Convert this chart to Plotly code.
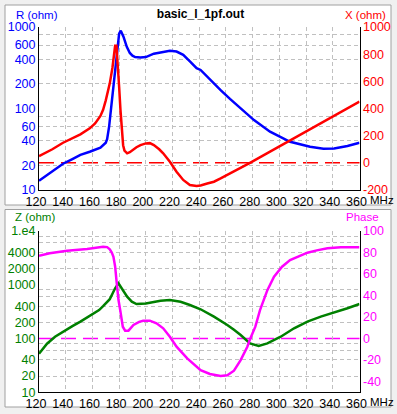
import plotly.graph_objects as go

# ---------------- data ----------------
f_R = [120, 130, 138, 145, 151, 158, 166, 170, 171, 172.5, 173.5, 174.5, 175.75, 177, 178.25, 179,
       180, 181.25, 182, 183.25, 185.75, 188, 190, 192, 196, 200, 206, 213, 218, 223, 228, 233,
       238, 241, 248, 256, 263, 271, 281, 293, 308, 323, 333, 341, 351, 360]
R_ohm = [13, 17, 21, 24, 27, 29.5, 33, 38, 42, 60, 85, 127, 185, 270, 393, 560,
         830, 900, 850, 760, 570, 480, 445, 428, 422, 428, 470, 498, 512, 500, 455, 378,
         312, 297, 226, 168, 131, 100, 72, 52, 39, 34, 32, 32.4, 34.7, 38]

f_X = [120, 130, 138, 145, 151, 158, 162, 166, 168, 170, 171, 173, 175, 176, 177, 178, 179, 180,
       181, 182, 183, 184, 186, 188, 190, 193, 196, 200, 203, 206, 210, 213, 218, 223, 228, 233,
       238, 241, 246, 251, 256, 261, 266, 271, 278, 285, 291, 297, 303, 310, 316, 322, 328, 335,
       341, 346, 351, 356, 360]
X_ohm = [50, 100, 148, 180, 210, 254, 290, 345, 390, 460, 500, 585, 700, 780, 862, 862, 740, 560,
         390, 217, 130, 90, 70, 78, 95, 115, 131, 143, 145, 131, 100, 70, 8, -65, -126, -163,
         -170, -167, -152, -139, -115, -90, -65, -40, 0, 38, 71, 104, 139, 178, 212, 246, 279, 318,
         351, 378, 404, 430, 450]

f_Z = [120, 126, 132, 138, 145, 151, 156, 161, 165, 168, 171, 173, 175, 177, 179.5, 182, 184, 186,
       189.5, 193, 200, 205, 211, 218, 226, 233, 241, 251, 256, 261, 266, 271, 278, 284.5, 291,
       296, 301, 311, 321, 331, 341, 351, 360]
Z_ohm = [52, 80, 108, 135, 170, 206, 245, 295, 339, 400, 470, 540, 680, 860, 1064, 860, 700, 600,
         484, 438, 450, 480, 505, 521, 484, 420, 350, 255, 215, 179, 145, 116, 81, 73, 81,
         95, 108, 155, 206, 255, 302, 365, 438]

f_P = [120, 128, 141, 156, 168, 171, 173, 174.5, 175.75, 177, 178.25, 179.5, 181, 182.75, 184.5,
       187, 190.75, 195, 198, 203, 208, 213, 218, 223, 231, 241, 248, 256, 261, 266, 271, 276,
       278, 282, 285.5, 288, 291, 296, 302, 308, 315, 321, 328, 336, 346, 360]
Phase_deg = [77, 79.3, 81.7, 83.3, 85.4, 85, 83, 80, 76, 67, 51, 36, 25, 11, 7.3,
             7.3, 12.6, 15.5, 16.6, 16.6, 14.2, 9.5, 1.7, -7.6, -18.4, -29.5, -33, -34.8, -34.2, -29.9, -20, -7.6,
             -0.7, 11, 26.5, 35.8, 45, 57.5, 66.8, 73, 77, 79.8, 82, 83.9, 84.8, 84.8]

freq_ticks = [120, 140, 160, 180, 200, 220, 240, 260, 280, 300, 320, 340, 360]
R_ticks = [10, 20, 40, 60, 100, 200, 400, 600, 1000]
R_minor = [20, 40, 60, 80, 200, 400, 600, 800]
R_decades = [10, 100, 1000]
X_ticks = [-200, 0, 200, 400, 600, 800, 1000]
Z_ticks = [10, 20, 40, 100, 200, 400, 1000, 2000, 4000, 10000]
Z_ticktext = ["10", "20", "40", "100", "200", "400", "1000", "2000", "4000", "1.e4"]
Z_minor = [20, 40, 60, 80, 200, 400, 600, 800, 2000, 4000, 6000, 8000]
Z_decades = [10, 100, 1000, 10000]
P_ticks = [-40, -20, 0, 20, 40, 60, 80, 100]

# ---------------- layout helpers ----------------
W, H = 397, 414
def px(x):
    return x / W
def py(y):
    return 1 - y / H

FONT = "Liberation Sans, Arial, sans-serif"
GRID = "#c0c0c0"
GDASH = "4px,3px"
BLUE, RED, GREEN, MAG = "#0000ff", "#ff0000", "#008000", "#ff00ff"
LW = 2.5
TS = 12.5

xdom = [px(39), px(359.5)]
top_dom = [py(190), py(27)]
bot_dom = [py(392.3), py(231)]

fig = go.Figure()
fig.add_trace(go.Scatter(x=f_R, y=R_ohm, mode="lines", line=dict(color=BLUE, width=LW),
                         xaxis="x", yaxis="y", showlegend=False))
fig.add_trace(go.Scatter(x=f_X, y=X_ohm, mode="lines", line=dict(color=RED, width=LW),
                         xaxis="x", yaxis="y2", showlegend=False))
fig.add_trace(go.Scatter(x=f_Z, y=Z_ohm, mode="lines", line=dict(color=GREEN, width=LW),
                         xaxis="x2", yaxis="y4", showlegend=False))
fig.add_trace(go.Scatter(x=f_P, y=Phase_deg, mode="lines", line=dict(color=MAG, width=LW),
                         xaxis="x2", yaxis="y5", showlegend=False))

tickfont = dict(family=FONT, size=TS, color="black")
xcommon = dict(range=[120, 360], domain=xdom, tickmode="array", tickvals=freq_ticks,
               ticktext=[str(v) for v in freq_ticks], showgrid=True, gridcolor=GRID,
               griddash=GDASH, gridwidth=1, showline=True, linecolor="black", linewidth=1,
               ticks="", zeroline=False, automargin=False, tickfont=tickfont, fixedrange=True,
               ticklabelshift=-3)

def logaxis(dom, rng, tv, tt, minor, color, anchor):
    return dict(type="log", range=rng, domain=dom, anchor=anchor, tickmode="array", tickvals=tv,
                ticktext=tt, showgrid=False, showline=True, linecolor="black", linewidth=1,
                ticks="", zeroline=False, automargin=False,
                tickfont=dict(family=FONT, size=TS, color=color),
                minor=dict(tickmode="array", tickvals=minor, showgrid=True, gridcolor=GRID,
                           griddash=GDASH, gridwidth=1, ticks=""))

def decade_axis(base, rng, tv, anchor):
    return dict(type="log", range=rng, overlaying=base, anchor=anchor, side="left",
                tickmode="array", tickvals=tv, showticklabels=False, showgrid=True,
                gridcolor=GRID, gridwidth=1, ticks="", showline=False, zeroline=False,
                automargin=False)

def linaxis(base, rng, tv, color, anchor):
    return dict(range=rng, overlaying=base, anchor=anchor, side="right", tickmode="array",
                tickvals=tv, ticktext=[str(v) for v in tv], showgrid=False, showline=True,
                linecolor="black", linewidth=1, ticks="", zeroline=False, automargin=False,
                tickfont=dict(family=FONT, size=TS, color=color))

fig.update_layout(
    template="none",
    width=W, height=H,
    margin=dict(l=0, r=0, t=0, b=0),
    paper_bgcolor="#f0f0f0",
    plot_bgcolor="white",
    font=dict(family=FONT, size=TS, color="black"),
    showlegend=False,
    xaxis=dict(anchor="y", **xcommon),
    xaxis2=dict(anchor="y4", **xcommon),
    yaxis=logaxis(top_dom, [1, 3], R_ticks, [str(v) for v in R_ticks], R_minor, BLUE, "x"),
    yaxis2=linaxis("y", [-200, 1000], X_ticks, RED, "x"),
    yaxis3=decade_axis("y", [1, 3], R_decades, "x"),
    yaxis4=logaxis(bot_dom, [1, 4], Z_ticks, Z_ticktext, Z_minor, GREEN, "x2"),
    yaxis5=linaxis("y4", [-50, 100], P_ticks, MAG, "x2"),
    yaxis6=decade_axis("y4", [1, 4], Z_decades, "x2"),
    title=dict(text="<b>basic_l_1pf.out</b>", x=px(200.5), y=py(14), xanchor="center",
               yanchor="middle", xref="paper", yref="paper",
               font=dict(family=FONT, size=12, color="black")),
)

# white panels
shapes = []
for (y0, y1) in [(5, 205), (209.5, 407)]:
    shapes.append(dict(type="rect", xref="paper", yref="paper", x0=px(5), x1=px(391),
                       y0=py(y1), y1=py(y0), fillcolor="white",
                       line=dict(color="#a0a0a0", width=1), layer="below"))
# zero reference lines
shapes.append(dict(type="line", xref="x domain", x0=0, x1=1, yref="y2", y0=0, y1=0,
                   line=dict(color=RED, width=1.5, dash="15px,7px"), layer="below"))
shapes.append(dict(type="line", xref="x2 domain", x0=0, x1=1, yref="y5", y0=0, y1=0,
                   line=dict(color=MAG, width=1.5, dash="15px,7px"), layer="below"))
fig.update_layout(shapes=shapes)

def label(text, x, y, color, xanchor="left", size=11.5):
    fig.add_annotation(text=text, x=px(x), y=py(y), xref="paper", yref="paper",
                       xanchor=xanchor, yanchor="middle", showarrow=False,
                       font=dict(family=FONT, size=size, color=color))

label("R (ohm)", 13.5, 14.5, BLUE)
label("X (ohm)", 342.5, 14.5, RED)
label("Z (ohm)", 13, 216.5, GREEN)
label("Phase", 344, 216.5, MAG)
label("MHz", 368, 200, "black")
label("MHz", 368, 401.5, "black")

fig.write_html("out.html", config={"displayModeBar": False},
               post_script="document.body.style.margin='0';document.body.style.padding='0';"
                           "document.body.style.background='#f0f0f0';")
